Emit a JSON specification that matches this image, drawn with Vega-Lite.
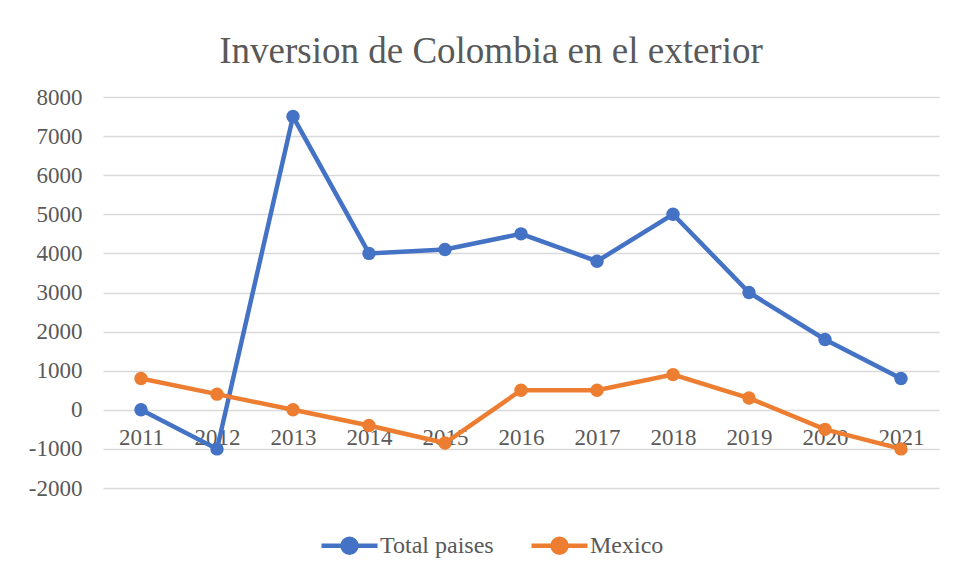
{
  "$schema": "https://vega.github.io/schema/vega-lite/v6.json",
  "width": 836,
  "height": 391,
  "autosize": {"type": "none"},
  "padding": {"left": 103, "top": 97, "right": 18, "bottom": 88},
  "background": "white",
  "title": {
    "text": "Inversion de Colombia en el exterior",
    "font": "Liberation Serif",
    "fontSize": 37,
    "fontWeight": "normal",
    "color": "#595959",
    "anchor": "middle",
    "dx": -30,
    "offset": 15
  },
  "data": {
    "values": [
      {"year": "2011", "series": "Total paises", "value": 0},
      {"year": "2012", "series": "Total paises", "value": -1000},
      {"year": "2013", "series": "Total paises", "value": 7500},
      {"year": "2014", "series": "Total paises", "value": 4000},
      {"year": "2015", "series": "Total paises", "value": 4100},
      {"year": "2016", "series": "Total paises", "value": 4500},
      {"year": "2017", "series": "Total paises", "value": 3800},
      {"year": "2018", "series": "Total paises", "value": 5000},
      {"year": "2019", "series": "Total paises", "value": 3000},
      {"year": "2020", "series": "Total paises", "value": 1800},
      {"year": "2021", "series": "Total paises", "value": 800},
      {"year": "2011", "series": "Mexico", "value": 800},
      {"year": "2012", "series": "Mexico", "value": 400},
      {"year": "2013", "series": "Mexico", "value": 0},
      {"year": "2014", "series": "Mexico", "value": -400},
      {"year": "2015", "series": "Mexico", "value": -850},
      {"year": "2016", "series": "Mexico", "value": 500},
      {"year": "2017", "series": "Mexico", "value": 500},
      {"year": "2018", "series": "Mexico", "value": 900},
      {"year": "2019", "series": "Mexico", "value": 300},
      {"year": "2020", "series": "Mexico", "value": -500},
      {"year": "2021", "series": "Mexico", "value": -1000}
    ]
  },
  "mark": {
    "type": "line",
    "strokeWidth": 4.5,
    "point": {"filled": true, "size": 180, "opacity": 1}
  },
  "encoding": {
    "x": {
      "field": "year",
      "type": "ordinal",
      "scale": {"type": "point", "padding": 0.5},
      "axis": {
        "title": null,
        "offset": -78,
        "domain": false,
        "ticks": false,
        "grid": false,
        "labelAngle": 0,
        "labelFont": "Liberation Serif",
        "labelFontSize": 23,
        "labelColor": "#595959",
        "labelPadding": 16
      }
    },
    "y": {
      "field": "value",
      "type": "quantitative",
      "scale": {"domain": [-2000, 8000], "nice": false},
      "axis": {
        "title": null,
        "values": [-2000, -1000, 0, 1000, 2000, 3000, 4000, 5000, 6000, 7000, 8000],
        "labelExpr": "datum.value + ''",
        "domain": false,
        "ticks": false,
        "grid": true,
        "gridColor": "#d9d9d9",
        "gridWidth": 1.5,
        "labelFont": "Liberation Serif",
        "labelFontSize": 23,
        "labelColor": "#595959",
        "labelPadding": 21
      }
    },
    "color": {
      "field": "series",
      "type": "nominal",
      "scale": {"domain": ["Total paises", "Mexico"], "range": ["#4472C4", "#ED7D31"]},
      "legend": {
        "title": null,
        "orient": "none",
        "legendX": 216,
        "legendY": 418,
        "direction": "horizontal",
        "symbolType": "M -1 0 H 1 M 0.25 0 A 0.25 0.25 0 1 1 -0.25 0 A 0.25 0.25 0 1 1 0.25 0 Z",
        "symbolSize": 3136,
        "symbolStrokeWidth": 4.5,
        "labelFont": "Liberation Serif",
        "labelFontSize": 24,
        "labelColor": "#595959",
        "labelOffset": 0,
        "columnPadding": 28
      }
    }
  },
  "config": {
    "view": {"stroke": null}
  }
}
